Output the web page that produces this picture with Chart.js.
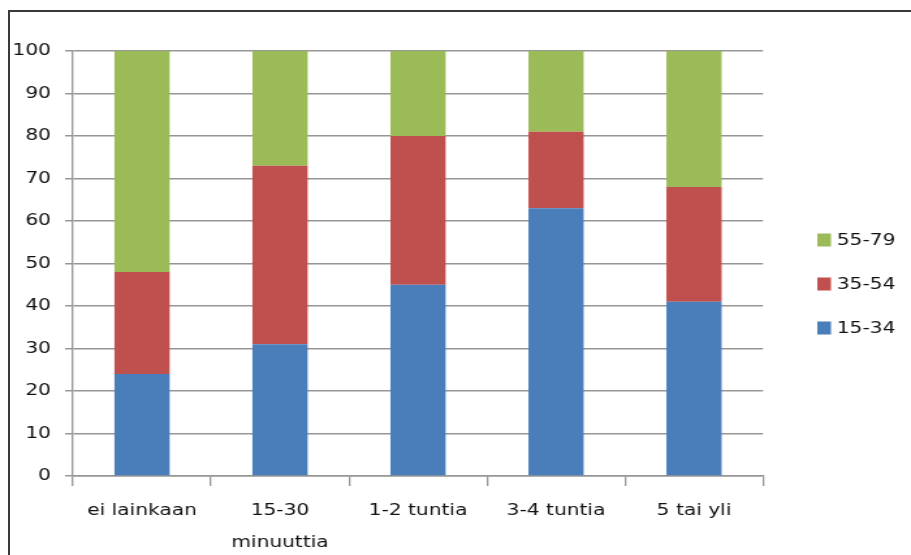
<!DOCTYPE html>
<html>
<head>
<meta charset="utf-8">
<script src="https://cdn.jsdelivr.net/npm/chart.js@4.4.0/dist/chart.umd.min.js"></script>
<style>
  html, body { margin: 0; padding: 0; background: #fff; overflow: hidden; }
  #frame { position: absolute; left: 8px; top: 10px; width: 1000px; height: 1000px;
           border: 2px solid #3a3a3a; box-sizing: border-box; }
  /* the chart is laid out on a narrower canvas and widened to 911px,
     giving the broad, wide-set lettering of the original graphic */
  #wrap { position: absolute; left: 0; top: 0; width: 700px; height: 555px;
          transform: scaleX(1.3014); transform-origin: 0 0; }
</style>
</head>
<body>
<div id="frame"></div>
<div id="wrap"><canvas id="c" width="700" height="555"></canvas></div>
<script>
// Time spent per day, share of each age group (%)
const categories = ['ei lainkaan', ['15-30', 'minuuttia'], '1-2 tuntia', '3-4 tuntia', '5 tai yli'];
const ageGroups = ['15-34', '35-54', '55-79'];
const share15to34 = [24, 31, 45, 63, 41];
const share35to54 = [24, 42, 35, 18, 27];
const share55to79 = [52, 27, 20, 19, 32];
const yMin = 0, yMax = 100, yStep = 10;

const colors = ['#4A7EBB', '#C0504D', '#9BBB59'];
const gridColor = '#969696';
const textColor = '#111';
const fontFamily = '"DejaVu Sans", Verdana, sans-serif';
const fontSize = 15.5;

// Legend on the right, top item = last series
const sideLegend = {
  id: 'sideLegend',
  afterDraw(chart) {
    const ctx = chart.ctx;
    const ds = chart.data.datasets;
    ctx.save();
    ctx.font = fontSize + 'px ' + fontFamily;
    ctx.textBaseline = 'middle';
    ctx.textAlign = 'left';
    const x = 628, y0 = 240, gap = 44, boxW = 10.5, boxH = 13;
    for (let k = 0; k < ds.length; k++) {
      const d = ds[ds.length - 1 - k];
      const y = y0 + k * gap;
      ctx.fillStyle = d.backgroundColor;
      ctx.fillRect(x, y - boxH / 2, boxW, boxH);
      ctx.fillStyle = textColor;
      ctx.fillText(d.label, x + 15, y + 1);
    }
    ctx.restore();
  }
};

new Chart(document.getElementById('c'), {
  type: 'bar',
  data: {
    labels: categories,
    datasets: [
      { label: ageGroups[0], data: share15to34, backgroundColor: colors[0] },
      { label: ageGroups[1], data: share35to54, backgroundColor: colors[1] },
      { label: ageGroups[2], data: share55to79, backgroundColor: colors[2] }
    ]
  },
  options: {
    responsive: false,
    animation: false,
    devicePixelRatio: 1,
    layout: { padding: { left: 0, top: 51, right: 113.7, bottom: 0 } },
    datasets: { bar: { categoryPercentage: 1, barPercentage: 0.4, borderWidth: 0 } },
    plugins: { legend: { display: false }, tooltip: { enabled: false } },
    scales: {
      x: {
        stacked: true,
        grid: { display: true, drawOnChartArea: false, offset: true, tickLength: 10, color: gridColor, lineWidth: 1.3 },
        border: { color: gridColor, width: 1.5 },
        ticks: { color: textColor, font: { family: fontFamily, size: fontSize, lineHeight: 2.06 }, padding: 9, maxRotation: 0 },
        afterFit(s) { s.height = 79; }
      },
      y: {
        stacked: true,
        min: yMin, max: yMax,
        grid: { color: gridColor, tickLength: 6.1, lineWidth: 1.5 },
        border: { color: gridColor, width: 1.3 },
        ticks: { stepSize: yStep, color: textColor, font: { family: fontFamily, size: fontSize }, padding: 10.8 },
        afterFit(s) { s.width = 56.1; }
      }
    }
  },
  plugins: [sideLegend]
});
</script>
</body>
</html>
